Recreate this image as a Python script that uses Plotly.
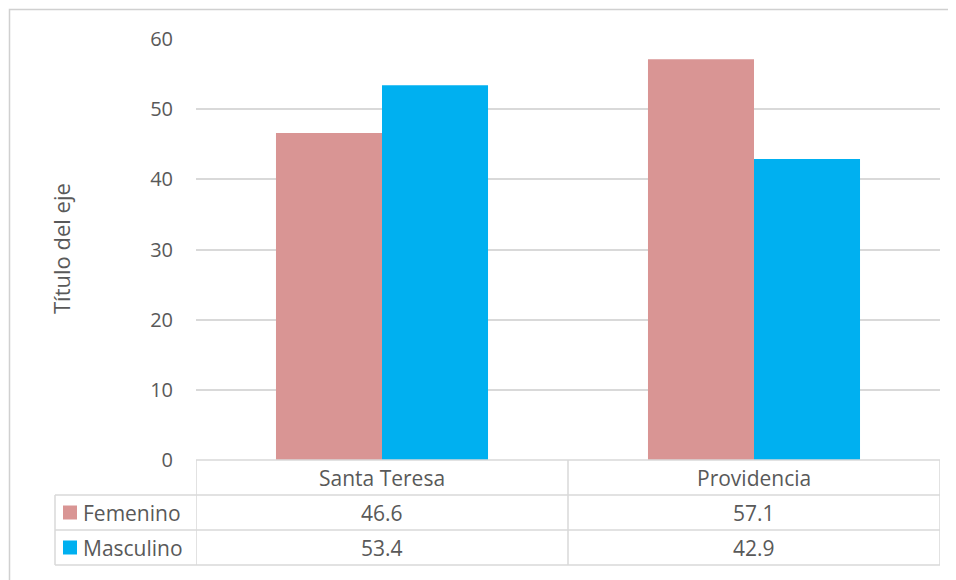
import plotly.graph_objects as go

# Datos
categorias = ["Santa Teresa", "Providencia"]
series = ["Femenino", "Masculino"]
femenino = [46.6, 57.1]
masculino = [53.4, 42.9]
valores = [femenino, masculino]
colores = ["#D99594", "#00B0F0"]
y_ticks = [0, 10, 20, 30, 40, 50, 60]

# la página tiene 8px de margen en el body
OFF = 8
W, H = 956 - OFF, 580 - OFF
L, R, T, B = 196 - OFF, 16, 39 - OFF, 120
pw, ph = W - L - R, H - T - B
gris = "#D9D9D9"
texto = "#595959"
fuente = "Open Sans"
fs = 21


def px_x(px):
    # coordenada de página -> paper
    return (px - OFF - L) / pw


def px_y(py):
    return (H - B - (py - OFF)) / ph


fig = go.Figure()
for nombre, vals, col in zip(series, valores, colores):
    fig.add_trace(go.Bar(x=categorias, y=vals, name=nombre, marker=dict(color=col, line=dict(width=0))))

shapes = []
annotations = []
row_h = 35
y0 = 460
linea = dict(color=gris, width=1.5)
# lineas de la tabla
for i in range(1, 4):
    yy = px_y(y0 + row_h * i)
    shapes.append(dict(type="line", xref="paper", yref="paper", x0=px_x(55), x1=1, y0=yy, y1=yy, line=linea))
shapes.append(dict(type="line", xref="paper", yref="paper", x0=0, x1=1, y0=0, y1=0, line=linea))
shapes.append(dict(type="line", xref="paper", yref="paper", x0=px_x(55), x1=px_x(55),
                   y0=px_y(y0 + row_h), y1=px_y(y0 + 3 * row_h), line=linea))
for xv in [-0.5, 0.5, 1.5]:
    shapes.append(dict(type="line", xref="x", yref="paper", x0=xv, x1=xv,
                       y0=0, y1=px_y(y0 + 3 * row_h), line=linea))
# borde exterior
shapes.append(dict(type="rect", xref="paper", yref="paper", x0=px_x(9.5), x1=px_x(965),
                   y0=px_y(590), y1=px_y(9.5), line=dict(color="#D0D0D0", width=1.5)))

# encabezados y valores
for c in categorias:
    annotations.append(dict(x=c, xref="x", y=px_y(y0 + row_h / 2), yref="paper", text=c,
                            xanchor="center", yanchor="middle", showarrow=False,
                            font=dict(size=fs, color=texto, family=fuente)))
for r, (nombre, vals, col) in enumerate(zip(series, valores, colores)):
    yc = y0 + row_h * (r + 1.5)
    shapes.append(dict(type="rect", xref="paper", yref="paper", x0=px_x(63), x1=px_x(77),
                       y0=px_y(yc + 7), y1=px_y(yc - 7), fillcolor=col, line=dict(width=0)))
    annotations.append(dict(x=px_x(81), xref="paper", y=px_y(yc), yref="paper", text=nombre,
                            xanchor="left", yanchor="middle", showarrow=False,
                            font=dict(size=fs, color=texto, family=fuente)))
    for c, v in zip(categorias, vals):
        annotations.append(dict(x=c, xref="x", y=px_y(yc), yref="paper", text=f"{v:.1f}",
                                xanchor="center", yanchor="middle", showarrow=False,
                                font=dict(size=fs, color=texto, family=fuente)))

annotations.append(dict(x=px_x(61), xref="paper", y=px_y(249), yref="paper", text="Título del eje",
                        textangle=-90, xanchor="center", yanchor="middle", showarrow=False,
                        font=dict(size=22, color=texto, family=fuente)))

fig.update_layout(
    width=W, height=H,
    margin=dict(l=L, r=R, t=T, b=B),
    paper_bgcolor="white", plot_bgcolor="white",
    barmode="group", bargap=0.43, bargroupgap=0,
    showlegend=False,
    font=dict(family=fuente, color=texto, size=fs),
    xaxis=dict(showticklabels=False, showline=False, showgrid=False, range=[-0.5, 1.5]),
    yaxis=dict(range=[0, 60], tickvals=y_ticks, showgrid=True, gridcolor=gris, gridwidth=1.5,
               zeroline=False, showline=False, ticks="", ticklabelstandoff=22,
               tickfont=dict(size=20, color=texto, family=fuente)),
    shapes=shapes, annotations=annotations,
)

fig.write_html("out.html")
